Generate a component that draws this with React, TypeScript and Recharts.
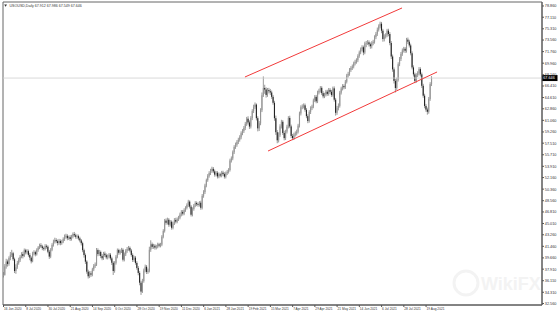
import React from "react";
import { ComposedChart, Bar, XAxis, YAxis, ReferenceLine, ReferenceArea } from "recharts";

// USOUSD daily candles, 16 Jun 2020 .. 25 Aug 2021
// open of each bar = previous close (first bar has its own open)
const firstOpen = 36.8;

const closes = [
  37.02, 38.35, 39.10, 38.72, 39.64, 40.15, 40.38, 39.45, 37.62, 38.20,
  38.88, 39.30, 39.82, 40.26, 39.95, 40.86, 40.52, 40.71, 40.13, 39.70,
  39.12, 40.38, 40.55, 40.21, 40.90, 41.28, 41.62, 41.45, 41.18, 41.06,
  41.52, 41.40, 40.62, 39.86, 40.92, 41.68, 42.18, 42.44, 42.25, 41.98,
  42.30, 41.96, 42.20, 42.58, 42.95, 43.10, 42.72, 42.88, 42.60, 42.98,
  43.36, 43.18, 42.94, 43.05, 42.70, 42.38, 41.95, 40.86, 40.10, 39.08,
  37.52, 36.80, 37.26, 37.05, 37.88, 38.42, 38.62, 40.88, 40.25, 40.58,
  39.95, 39.60, 40.32, 40.08, 39.74, 39.86, 40.15, 39.58, 38.90, 37.62,
  38.90, 39.85, 40.88, 40.46, 40.70, 40.92, 39.38, 40.22, 40.76, 41.05,
  41.22, 40.80, 40.12, 39.34, 39.70, 38.88, 38.10, 37.32, 35.80, 34.42,
  36.05, 37.70, 38.28, 37.48, 37.65, 40.92, 41.78, 41.38, 41.55, 41.26,
  41.42, 41.75, 41.58, 41.72, 42.96, 43.85, 45.46, 45.12, 45.60, 44.82,
  45.28, 44.35, 45.02, 45.56, 45.30, 45.68, 45.92, 46.40, 46.82, 46.55,
  47.10, 47.45, 47.88, 48.42, 47.64, 46.38, 47.26, 47.80, 48.20, 48.02,
  47.90, 48.25, 47.46, 49.32, 49.90, 50.92, 51.76, 52.44, 52.86, 53.20,
  53.52, 53.12, 52.62, 52.90, 52.34, 52.66, 52.48, 52.92, 52.70, 52.30,
  52.84, 53.06, 53.34, 54.82, 55.14, 56.10, 56.92, 57.26, 57.68, 58.04,
  58.42, 59.06, 59.40, 59.88, 60.52, 61.32, 60.74, 60.10, 61.42, 62.50,
  63.18, 63.52, 61.40, 59.82, 60.60, 62.64, 64.96, 66.10, 65.86, 65.02,
  65.78, 65.60, 65.40, 64.72, 63.80, 61.40, 59.22, 57.96, 58.80, 60.12,
  60.84, 59.10, 58.30, 59.32, 60.08, 61.44, 60.12, 58.64, 58.30, 58.86,
  59.02, 59.30, 60.24, 62.14, 63.10, 63.22, 63.40, 62.70, 61.72, 60.96,
  62.38, 62.96, 63.22, 64.18, 64.72, 64.02, 65.40, 65.68, 66.12, 65.30,
  64.80, 65.06, 65.52, 65.18, 65.80, 65.50, 65.02, 66.04, 64.28, 62.24,
  62.96, 63.32, 65.38, 66.02, 66.40, 66.22, 67.08, 68.04, 68.30, 68.92,
  69.20, 69.44, 69.92, 70.18, 70.42, 71.08, 71.64, 72.10, 72.44, 71.62,
  73.02, 73.10, 73.20, 72.90, 72.60, 73.08, 73.30, 74.02, 74.52, 75.16,
  75.70, 76.10, 75.02, 73.72, 74.10, 74.30, 75.02, 74.50, 73.10, 71.00,
  69.00, 67.20, 66.10, 67.40, 69.80, 70.62, 71.40, 71.96, 72.20, 71.90,
  73.62, 73.30, 72.72, 71.50, 69.30, 68.22, 67.20, 68.10, 68.38, 69.04,
  68.22, 66.44, 64.90, 63.30, 62.74, 62.40, 64.40, 66.70, 67.65,
];

const highs = [
  37.45, 38.70, 39.52, 39.40, 39.90, 40.58, 40.92, 40.60, 39.70, 38.66,
  39.20, 39.68, 40.10, 40.55, 40.62, 41.12, 41.08, 41.02, 40.95, 40.42,
  39.92, 40.62, 40.85, 40.78, 41.15, 41.50, 41.88, 41.95, 41.70, 41.42,
  41.80, 41.76, 41.62, 40.90, 41.18, 41.95, 42.50, 42.80, 42.72, 42.52,
  42.62, 42.55, 42.48, 42.86, 43.30, 43.42, 43.35, 43.12, 43.20, 43.25,
  43.62, 43.70, 43.45, 43.32, 43.28, 42.95, 42.60, 42.18, 41.10, 40.35,
  39.30, 37.82, 37.58, 37.60, 38.12, 38.70, 38.95, 41.20, 41.15, 40.90,
  40.80, 40.25, 40.60, 40.65, 40.35, 40.20, 40.42, 40.40, 39.85, 39.15,
  39.15, 40.12, 41.12, 41.10, 40.98, 41.22, 41.15, 40.50, 41.02, 41.35,
  41.52, 41.45, 41.05, 40.38, 40.00, 39.96, 39.15, 38.40, 37.60, 36.10,
  36.40, 38.00, 38.62, 38.55, 38.00, 41.40, 42.40, 42.05, 41.85, 41.80,
  41.70, 42.02, 42.00, 42.00, 43.20, 44.12, 45.72, 45.80, 45.92, 45.85,
  45.55, 45.50, 45.30, 45.85, 45.90, 45.95, 46.20, 46.70, 47.10, 47.12,
  47.38, 47.70, 48.15, 48.70, 48.62, 47.90, 47.52, 48.05, 48.48, 48.45,
  48.30, 48.50, 48.55, 49.60, 50.20, 51.20, 52.00, 52.70, 53.15, 53.52,
  53.85, 53.80, 53.40, 53.18, 53.15, 52.95, 52.92, 53.20, 53.22, 52.98,
  53.10, 53.35, 53.62, 55.10, 55.45, 56.38, 57.20, 57.60, 57.98, 58.35,
  58.75, 59.35, 59.70, 60.18, 60.82, 61.60, 61.70, 61.05, 61.72, 62.80,
  63.50, 63.85, 63.70, 61.70, 60.95, 62.95, 65.40, 67.90, 66.60, 66.20,
  66.10, 66.12, 65.95, 65.70, 65.02, 64.10, 61.80, 59.55, 59.20, 60.45,
  61.15, 61.10, 59.45, 59.60, 60.38, 61.72, 61.78, 60.40, 58.95, 59.15,
  59.35, 59.62, 60.52, 62.42, 63.40, 63.55, 63.70, 63.68, 62.98, 62.02,
  62.65, 63.25, 63.50, 64.45, 65.00, 65.02, 65.68, 65.98, 66.40, 66.38,
  65.60, 65.35, 65.80, 65.82, 66.10, 66.08, 65.80, 66.32, 66.35, 64.55,
  63.30, 63.70, 65.65, 66.30, 66.70, 66.68, 67.35, 68.30, 68.62, 69.20,
  69.50, 69.75, 70.20, 70.50, 70.72, 71.35, 71.92, 72.40, 72.75, 72.70,
  73.30, 73.42, 73.55, 73.50, 73.18, 73.38, 73.60, 74.30, 74.82, 75.50,
  76.00, 76.42, 76.38, 75.30, 74.45, 74.62, 75.30, 75.32, 74.80, 73.40,
  71.30, 69.30, 67.50, 67.70, 70.10, 70.92, 71.70, 72.25, 72.50, 72.48,
  73.90, 73.95, 73.60, 73.00, 71.80, 69.62, 68.50, 68.40, 68.70, 69.35,
  69.32, 68.50, 66.75, 65.20, 63.62, 63.05, 64.70, 67.00, 67.95,
];

const lows = [
  36.62, 36.90, 37.98, 38.30, 38.44, 39.30, 39.80, 39.20, 37.30, 37.18,
  37.95, 38.60, 39.02, 39.60, 39.58, 39.78, 40.20, 40.22, 39.85, 39.30,
  38.80, 38.98, 40.05, 39.90, 40.02, 40.62, 41.02, 41.20, 40.86, 40.78,
  40.82, 41.10, 40.38, 39.50, 39.62, 40.70, 41.42, 41.90, 41.95, 41.60,
  41.70, 41.62, 41.70, 41.95, 42.30, 42.66, 42.40, 42.45, 42.30, 42.35,
  42.70, 42.92, 42.65, 42.62, 42.40, 42.08, 41.60, 40.55, 39.70, 38.72,
  37.20, 36.45, 36.52, 36.70, 36.80, 37.60, 38.10, 38.40, 39.92, 39.98,
  39.62, 39.30, 39.35, 39.80, 39.45, 39.42, 39.60, 39.28, 38.55, 37.00,
  37.35, 38.62, 39.60, 40.15, 40.18, 40.42, 39.10, 39.12, 39.95, 40.45,
  40.78, 40.52, 39.85, 39.02, 39.05, 38.60, 37.82, 36.95, 35.40, 33.90,
  34.20, 35.80, 37.42, 37.15, 37.18, 37.40, 40.60, 41.05, 41.08, 40.95,
  40.98, 41.15, 41.30, 41.30, 41.48, 42.70, 43.60, 44.82, 44.85, 44.50,
  44.55, 44.05, 44.10, 44.78, 45.02, 45.05, 45.40, 45.66, 46.12, 46.25,
  46.30, 46.82, 47.20, 47.60, 47.35, 46.10, 46.12, 47.00, 47.55, 47.72,
  47.62, 47.65, 47.15, 47.20, 49.02, 49.60, 50.65, 51.50, 52.15, 52.55,
  52.90, 52.85, 52.30, 52.35, 52.02, 52.05, 52.20, 52.20, 52.42, 52.00,
  52.02, 52.55, 52.78, 53.10, 54.50, 54.86, 55.82, 56.62, 56.95, 57.38,
  57.75, 58.12, 58.75, 59.10, 59.55, 60.20, 60.40, 59.72, 59.80, 61.10,
  62.20, 62.85, 61.05, 59.35, 59.40, 60.30, 62.35, 64.70, 65.20, 64.60,
  64.72, 65.25, 65.02, 64.40, 63.50, 61.00, 58.80, 57.50, 57.62, 58.50,
  59.80, 58.80, 57.95, 58.00, 59.02, 59.80, 59.85, 58.30, 57.98, 58.02,
  58.55, 58.72, 59.02, 59.95, 61.82, 62.80, 62.92, 62.40, 61.40, 60.62,
  60.70, 62.05, 62.66, 62.95, 63.90, 63.72, 63.75, 65.10, 65.38, 65.00,
  64.50, 64.52, 64.78, 64.88, 64.90, 65.20, 64.72, 64.75, 63.98, 61.80,
  61.92, 62.62, 63.05, 65.08, 65.72, 65.90, 65.95, 66.80, 67.72, 68.00,
  68.60, 68.90, 69.15, 69.62, 69.88, 70.12, 70.80, 71.35, 71.80, 71.20,
  71.35, 72.45, 72.80, 72.55, 72.20, 72.25, 72.75, 73.00, 73.70, 74.20,
  74.88, 75.38, 74.62, 73.30, 73.35, 73.80, 74.00, 74.15, 72.75, 70.60,
  68.62, 66.80, 65.40, 65.80, 67.10, 69.50, 70.30, 71.10, 71.62, 71.55,
  71.60, 72.95, 72.40, 71.18, 69.00, 67.88, 66.85, 66.90, 67.80, 68.05,
  67.90, 66.10, 64.58, 62.95, 62.40, 61.95, 62.10, 64.10, 66.40,
];

const dateTicks = [
  "16 Jun 2020", "8 Jul 2020", "30 Jul 2020", "21 Aug 2020", "14 Sep 2020",
  "6 Oct 2020", "28 Oct 2020", "19 Nov 2020", "11 Dec 2020", "6 Jan 2021",
  "28 Jan 2021", "19 Feb 2021", "15 Mar 2021", "7 Apr 2021", "29 Apr 2021",
  "21 May 2021", "14 Jun 2021", "6 Jul 2021", "28 Jul 2021", "19 Aug 2021",
];
const dateTickBars = [
  0, 16, 32, 48, 64, 80, 96, 112, 128, 144,
  160, 176, 192, 208, 224, 240, 256, 272, 288, 304,
];

const priceTicks = [
  78.86, 77.11, 75.31, 73.56, 71.76, 69.96, 68.16, 66.41, 64.61,
  62.86, 61.06, 59.26, 57.51, 55.71, 53.91, 52.16, 50.36, 48.56,
  46.81, 45.01, 43.26, 41.46, 39.66, 37.91, 36.11, 34.31, 32.56,
];

const lastPrice = 67.646;
const title = "USOUSD,Daily  67.912 67.986 67.549 67.646";

// trend channel drawn on the chart (bar index, price)
const upperChannel = [{ i: 173.7, p: 67.81 }, { i: 286.7, p: 78.55 }];
const lowerChannel = [{ i: 190.3, p: 56.29 }, { i: 311.9, p: 68.59 }];

const xDomain = [-0.36, 387.4];
const yDomain = [32.33, 79.48];

const candles = closes.map((c, i) => {
  const o = i === 0 ? firstOpen : closes[i - 1];
  const h = Math.max(highs[i], o, c);
  const l = Math.min(lows[i], o, c);
  return { i, o, h, l, c, range: [l, h] };
});

const FONT = "'Liberation Sans', Arial, sans-serif";

function Candle(props: any) {
  const { x, y, width, height, payload } = props;
  if (payload == null || height == null) return null;
  const { o, c, h, l } = payload;
  const cx = x + width / 2;
  const span = h - l || 1;
  const yOf = (v: number) => y + ((h - v) / span) * height;
  const top = yOf(Math.max(o, c));
  const bot = yOf(Math.min(o, c));
  const down = c < o;
  return (
    <g>
      <line x1={cx} x2={cx} y1={y} y2={y + height} stroke="#777" strokeWidth={0.75} />
      <rect
        x={cx - 0.55}
        y={top}
        width={1.1}
        height={Math.max(bot - top, 0.6)}
        fill={down ? "#222" : "#959595"}
      />
    </g>
  );
}

function DateTick({ x, y, payload }: any) {
  const k = dateTickBars.indexOf(payload.value);
  return (
    <text x={x + 0.5} y={y + 2.6} fontSize={3.2} fill="#333" textAnchor="start" fontFamily={FONT}>
      {k >= 0 ? dateTicks[k] : ""}
    </text>
  );
}

function PriceTick({ x, y, payload }: any) {
  return (
    <text x={x} y={y + 1.4} fontSize={3.8} fill="#333" textAnchor="start" fontFamily={FONT}>
      {payload.value.toFixed(3)}
    </text>
  );
}

function PriceTag({ viewBox }: any) {
  if (!viewBox) return null;
  const { x, y, width } = viewBox;
  const rx = x + width;
  return (
    <g>
      <rect x={rx} y={y - 3} width={15.5} height={6} fill="#000" />
      <text x={rx + 1.2} y={y + 1.4} fontSize={3.8} fill="#fff" fontFamily={FONT}>
        {lastPrice.toFixed(3)}
      </text>
    </g>
  );
}

export default function App() {
  return (
    <div style={{ position: "absolute", left: 0, top: 0, width: 558, height: 315, background: "#fff" }}>
      <svg
        width={558}
        height={315}
        style={{ position: "absolute", left: 0, top: 0, pointerEvents: "none" }}
      >
        <circle cx={466} cy={283} r={12} fill="none" stroke="#f3f3f3" strokeWidth={3} />
        <text x={481} y={290} fontSize={18} fontWeight="bold" fill="#f3f3f3" fontFamily={FONT}>
          WikiFX
        </text>
      </svg>
      <div style={{ position: "absolute", left: 0, top: 0 }}>
        <ComposedChart
          width={558}
          height={315}
          data={candles}
          margin={{ top: 2, right: 0, bottom: 0, left: 3 }}
          style={{ fontFamily: FONT }}
        >
          <XAxis
            dataKey="i"
            type="number"
            domain={xDomain}
            allowDataOverflow
            ticks={dateTickBars}
            interval={0}
            tick={<DateTick />}
            tickSize={2}
            tickMargin={0.5}
            height={10}
            stroke="#555"
          />
          <YAxis
            orientation="right"
            type="number"
            domain={yDomain}
            allowDataOverflow
            ticks={priceTicks}
            interval={0}
            tick={<PriceTick />}
            tickSize={2}
            tickMargin={0.8}
            width={16}
            stroke="#555"
          />
          <ReferenceArea
            x1={xDomain[0]}
            x2={xDomain[1]}
            y1={yDomain[0]}
            y2={yDomain[1]}
            fill="none"
            stroke="#666"
            strokeWidth={1}
            ifOverflow="visible"
          />
          <ReferenceLine y={lastPrice} stroke="#cfcfcf" strokeWidth={0.8} label={<PriceTag />} />
          <Bar dataKey="range" barSize={1.2} shape={<Candle />} isAnimationActive={false} />
          <ReferenceLine
            segment={[{ x: upperChannel[0].i, y: upperChannel[0].p }, { x: upperChannel[1].i, y: upperChannel[1].p }]}
            stroke="#f23a3a"
            strokeWidth={1}
            ifOverflow="visible"
          />
          <ReferenceLine
            segment={[{ x: lowerChannel[0].i, y: lowerChannel[0].p }, { x: lowerChannel[1].i, y: lowerChannel[1].p }]}
            stroke="#f23a3a"
            strokeWidth={1}
            ifOverflow="visible"
          />
        </ComposedChart>
      </div>
      <svg
        width={558}
        height={315}
        style={{ position: "absolute", left: 0, top: 0, pointerEvents: "none" }}
      >
        <path d="M4.2 4.6 L7 4.6 L5.6 6.8 Z" fill="#333" />
        <text x={9.5} y={7} fontSize={3.6} fill="#333" fontFamily={FONT}>
          {title}
        </text>
      </svg>
    </div>
  );
}
